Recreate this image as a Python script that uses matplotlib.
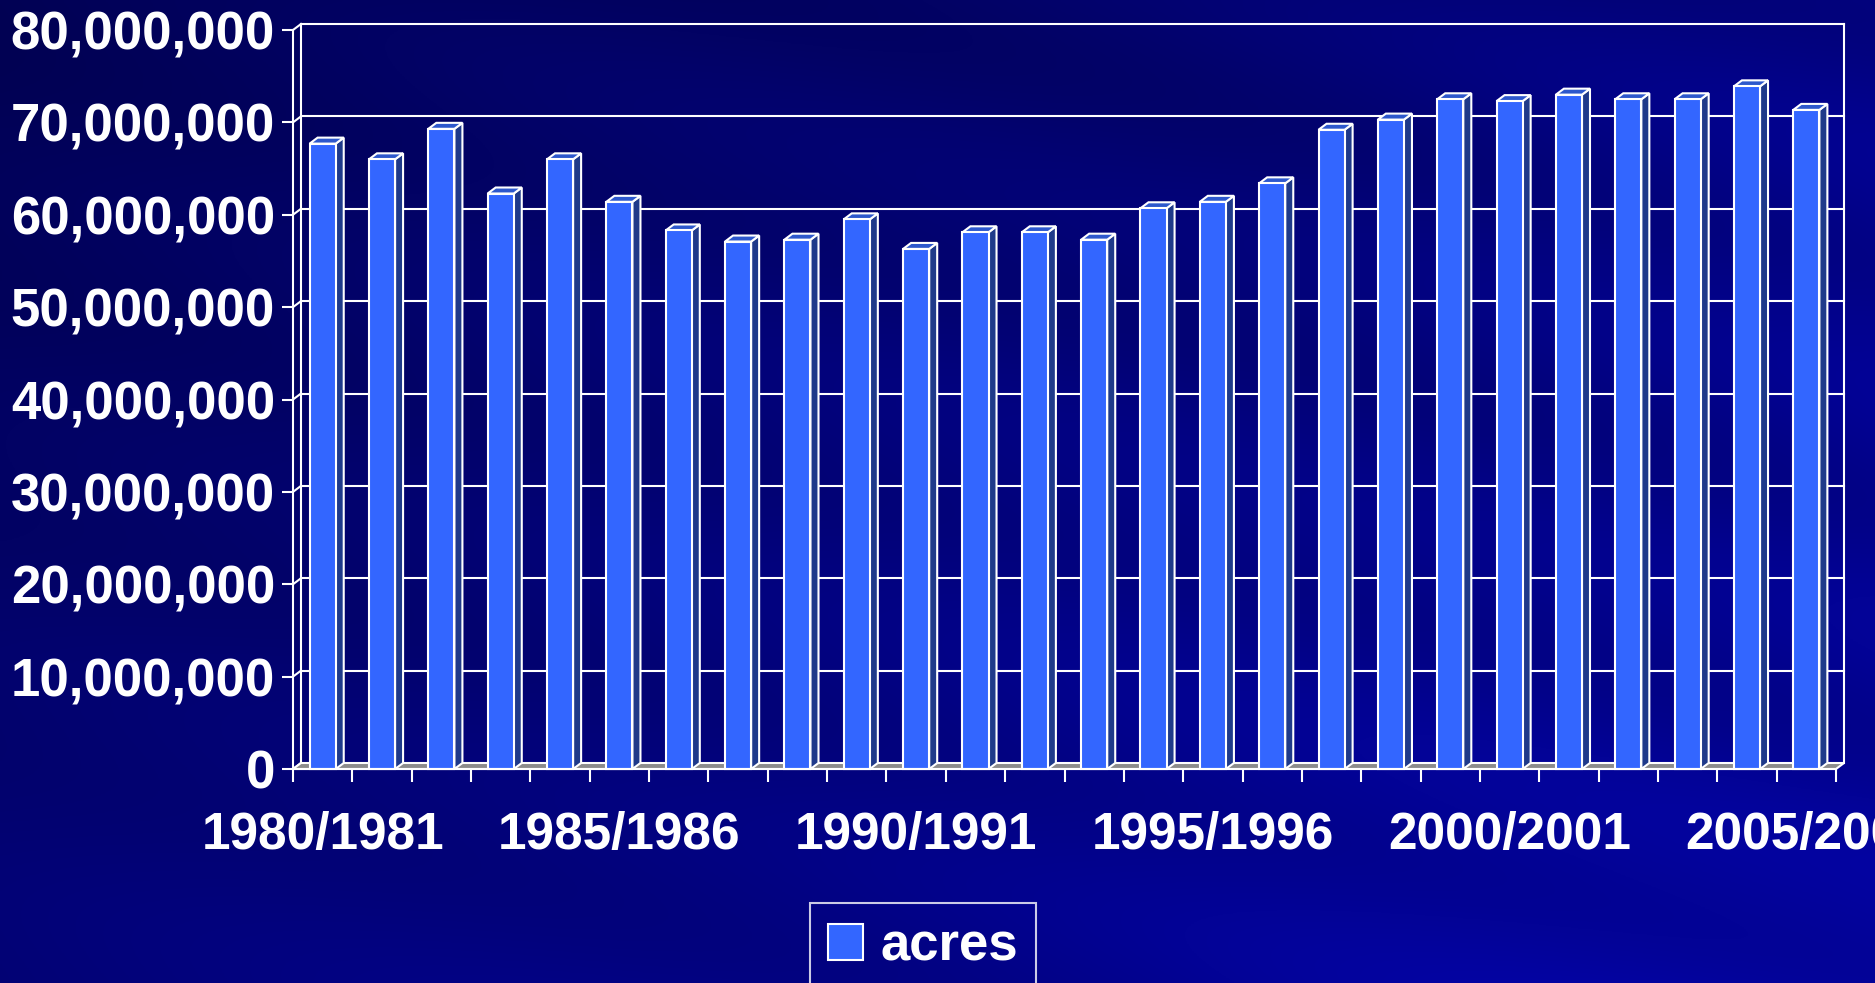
#!/usr/bin/env python3
"""
Acres planted per season, 1980/1981 to 2005/2006.

Recreates an old slide-style 3D column chart with matplotlib:
flat front faces from ax.bar, plus side/top polygons for the depth.
"""

import numpy as np
import matplotlib.pyplot as plt
from matplotlib.patches import Polygon

# Data
seasons = [f"{y}/{y + 1}" for y in range(1980, 2006)]
acres = [67.7e6, 66.0e6, 69.3e6, 62.3e6, 66.0e6, 61.4e6, 58.3e6, 57.1e6,
         57.3e6, 59.5e6, 56.3e6, 58.1e6, 58.1e6, 57.3e6, 60.7e6, 61.4e6,
         63.4e6, 69.2e6, 70.3e6, 72.5e6, 72.3e6, 73.0e6, 72.5e6, 72.5e6,
         73.9e6, 71.35e6]
y_ticks = list(range(0, 80_000_001, 10_000_000))
series_name = "acres"

# Styling
FONT = ["Liberation Sans", "DejaVu Sans"]
FRONT = "#3366ff"
SIDE = "#1f3a8a"
TOP = "#2d58cc"
FLOOR = "#8c8c8c"
LW = 1.5

W, H = 1875, 983


def draw_background(fig):
    """Dark navy gradient with faint diagonal streaks."""
    bg = fig.add_axes([0, 0, 1, 1], zorder=-10)
    yy, xx = np.mgrid[0:1:400j, 0:1:760j]
    blue = 0.33 + 0.17 * xx + 0.13 * yy
    streak = 0.03 * np.sin(26 * (0.45 * xx - yy)) + 0.02 * np.sin(11 * (0.8 * xx - 0.5 * yy))
    blue = np.clip(blue + streak * (0.3 + 0.7 * xx), 0, 1)
    img = np.dstack([0.02 * blue, 0.02 * blue, blue])
    bg.imshow(img, extent=[0, 1, 0, 1], aspect="auto", origin="upper")
    bg.set_axis_off()


def main():
    plt.rcParams["font.family"] = FONT
    fig = plt.figure(figsize=(W / 100, H / 100), dpi=100)
    draw_background(fig)

    # front plane of the plot, in pixels
    left, right, bottom, top = 293, 1836, 769, 30
    ax = fig.add_axes([left / W, 1 - bottom / H, (right - left) / W, (bottom - top) / H])
    ax.patch.set_visible(False)

    n = len(acres)
    x = np.arange(n)
    ax.set_xlim(-0.5, n - 0.5)
    ax.set_ylim(0, 80e6)

    # depth offset of the 3D look (8 px right, 6 px up)
    px_x = (right - left) / n
    px_y = (bottom - top) / 80e6
    dx = 8 / px_x
    dy = 6 / px_y
    x0, x1 = -0.5, n - 0.5

    # back wall gridlines and left wall diagonals
    for v in y_ticks:
        if v > 0:
            ax.plot([x0 + dx, x1 + dx], [v + dy, v + dy], color="white", lw=LW,
                    clip_on=False, zorder=1)
        ax.plot([x0, x0 + dx], [v, v + dy], color="white", lw=LW, clip_on=False, zorder=1)
    for xb in (x0 + dx, x1 + dx):
        ax.plot([xb, xb], [dy, 80e6 + dy], color="white", lw=LW, clip_on=False, zorder=1)

    # floor
    ax.add_patch(Polygon([(x0, 0), (x1, 0), (x1 + dx, dy), (x0 + dx, dy)],
                         closed=True, facecolor=FLOOR, edgecolor="white", lw=LW,
                         clip_on=False, zorder=1.5))

    # bars: side and top faces first, front face from ax.bar
    w = 0.44
    for xi, v in zip(x, acres):
        side = [(xi + w / 2, 0), (xi + w / 2 + dx, dy), (xi + w / 2 + dx, v + dy), (xi + w / 2, v)]
        topf = [(xi - w / 2, v), (xi + w / 2, v), (xi + w / 2 + dx, v + dy), (xi - w / 2 + dx, v + dy)]
        ax.add_patch(Polygon(side, closed=True, facecolor=SIDE, edgecolor="white", lw=LW,
                             clip_on=False, zorder=2))
        ax.add_patch(Polygon(topf, closed=True, facecolor=TOP, edgecolor="white", lw=LW,
                             clip_on=False, zorder=2))
    bars = ax.bar(x, acres, width=w, color=FRONT, edgecolor="white", lw=LW,
                  zorder=3, clip_on=False, label=series_name)

    # axes lines
    for s in ("top", "right"):
        ax.spines[s].set_visible(False)
    for s in ("left", "bottom"):
        ax.spines[s].set_color("white")
        ax.spines[s].set_linewidth(LW)
        ax.spines[s].set_zorder(4)

    ax.set_yticks(y_ticks)
    ax.set_yticklabels([f"{v:,}" for v in y_ticks])
    ax.tick_params(axis="y", length=8, width=LW, color="white", pad=5,
                   labelsize=38, labelcolor="white")

    ax.set_xticks(x[::5])
    ax.set_xticklabels(seasons[::5])
    ax.set_xticks(np.arange(n + 1) - 0.5, minor=True)
    ax.tick_params(axis="x", which="major", length=0, pad=30,
                   labelsize=37, labelcolor="white")
    ax.tick_params(axis="x", which="minor", length=9, width=LW, color="white")
    for lab in ax.get_xticklabels() + ax.get_yticklabels():
        lab.set_fontweight("bold")

    leg = fig.legend([bars], [series_name], loc="upper left",
                     bbox_to_anchor=(810 / W, 1 - 903 / H), bbox_transform=fig.transFigure,
                     borderaxespad=0, frameon=True, fancybox=False,
                     edgecolor="white", facecolor="none",
                     borderpad=0.35, handlelength=0.66, handleheight=0.66,
                     handletextpad=0.32, labelcolor="white",
                     prop={"size": 38, "weight": "bold", "family": FONT})
    leg.get_frame().set_linewidth(LW)

    fig.savefig("out.png", dpi=100)
    plt.close(fig)


if __name__ == "__main__":
    main()
